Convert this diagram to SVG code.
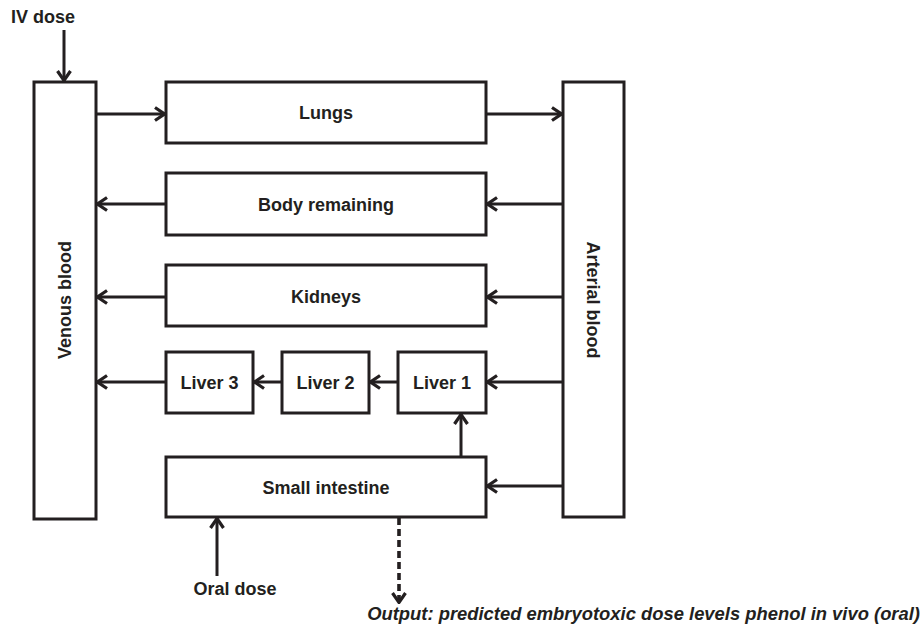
<svg xmlns="http://www.w3.org/2000/svg" width="922" height="624" viewBox="0 0 922 624">
<defs>
<marker id="ah" viewBox="0 0 14 16" refX="13" refY="8" markerWidth="14" markerHeight="16" markerUnits="userSpaceOnUse" orient="auto">
<path d="M3,1.5 L12.5,8 L3,14.5" fill="none" stroke="#231f20" stroke-width="3.2"/>
</marker>
<style>
.box{fill:#fff;stroke:#231f20;stroke-width:3}
.t{font-family:"Liberation Sans",Arial,sans-serif;font-weight:bold;font-size:18px;fill:#231f20;text-anchor:middle;dominant-baseline:central}
.c{fill:none;stroke:#231f20;stroke-width:3;marker-end:url(#ah)}
</style>
</defs>
<rect width="922" height="624" fill="#fff"/>
<g id="venous"><rect class="box" x="34" y="82" width="62" height="437"/><text class="t" transform="translate(65,300) rotate(-90)">Venous blood</text></g>
<g id="arterial"><rect class="box" x="563" y="82" width="61" height="435"/><text class="t" transform="translate(593,300) rotate(90)">Arterial blood</text></g>
<g id="lungs"><rect class="box" x="166" y="82" width="320" height="61"/><text class="t" x="326" y="113">Lungs</text></g>
<g id="body"><rect class="box" x="166" y="173" width="320" height="62"/><text class="t" x="326" y="205">Body remaining</text></g>
<g id="kidneys"><rect class="box" x="166" y="265" width="320" height="61"/><text class="t" x="326" y="297">Kidneys</text></g>
<g id="liver3"><rect class="box" x="166" y="352" width="87" height="61"/><text class="t" x="209.5" y="383">Liver 3</text></g>
<g id="liver2"><rect class="box" x="282" y="352" width="87" height="61"/><text class="t" x="325.5" y="383">Liver 2</text></g>
<g id="liver1"><rect class="box" x="398" y="352" width="88" height="61"/><text class="t" x="442" y="383">Liver 1</text></g>
<g id="intestine"><rect class="box" x="166" y="457" width="320" height="60"/><text class="t" x="326" y="488">Small intestine</text></g>
<g id="ivdose"><text class="t" x="43" y="17">IV dose</text></g>
<g id="oraldose"><text class="t" x="235" y="589">Oral dose</text></g>
<g id="output"><text class="t" x="920" y="613" style="font-style:italic;text-anchor:end;font-size:18.4px">Output: predicted embryotoxic dose levels phenol in vivo (oral)</text></g>
<g id="connectors">
<path class="c" d="M64,30 V81"/>
<path class="c" d="M96,114 H165"/>
<path class="c" d="M486,114 H562"/>
<path class="c" d="M563,204 H487"/>
<path class="c" d="M166,204 H97"/>
<path class="c" d="M563,297 H487"/>
<path class="c" d="M166,297 H97"/>
<path class="c" d="M563,382 H487"/>
<path class="c" d="M398,382 H370"/>
<path class="c" d="M282,382 H254"/>
<path class="c" d="M166,382 H97"/>
<path class="c" d="M563,486 H487"/>
<path class="c" d="M461,457 V414"/>
<path class="c" d="M217,576 V518"/>
<path class="c" d="M399,518 V603" stroke-dasharray="7,4" style="stroke-width:3.6"/>
</g>
</svg>
